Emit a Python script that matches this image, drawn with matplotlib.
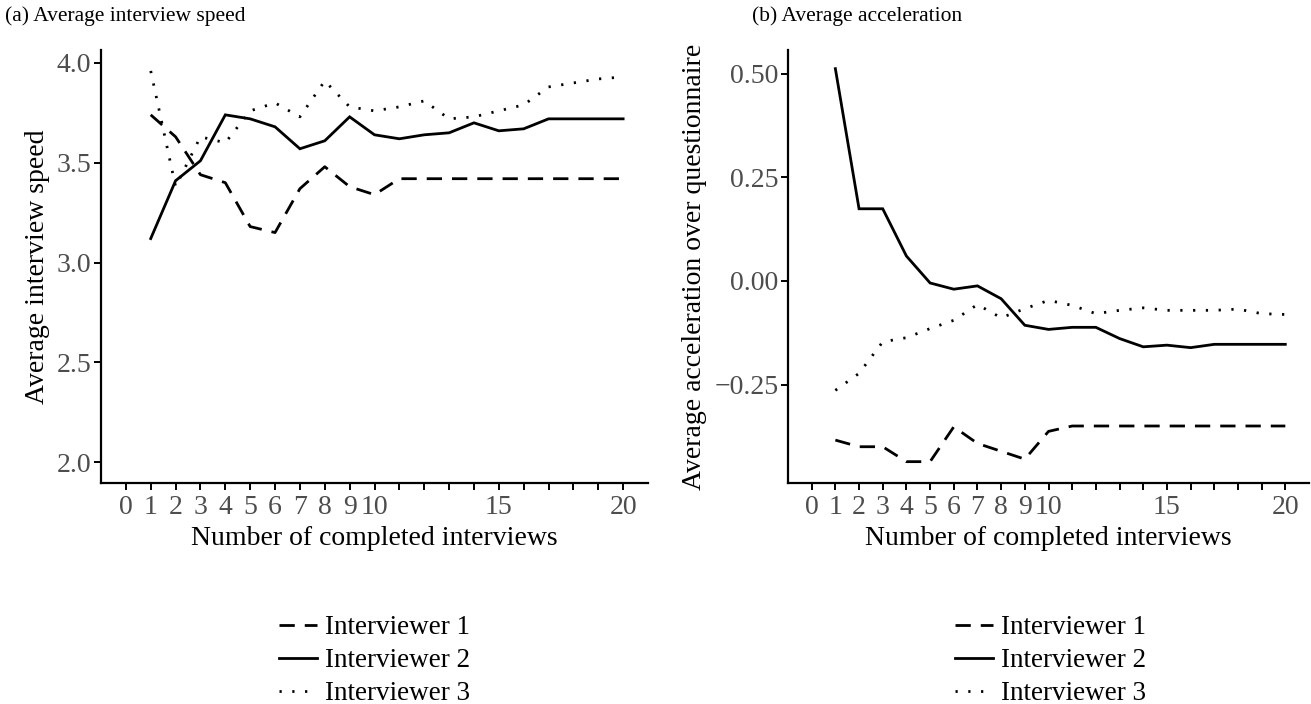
import numpy as np
import matplotlib
matplotlib.use("Agg")
import matplotlib.pyplot as plt

# interviews completed (x) for every series
n_interviews = list(range(1, 21))

# (a) average interview speed
speed_int1 = [3.74, 3.63, 3.44, 3.40, 3.18, 3.15, 3.37, 3.48, 3.38, 3.34,
              3.42, 3.42, 3.42, 3.42, 3.42, 3.42, 3.42, 3.42, 3.42, 3.42]
speed_int2 = [3.12, 3.41, 3.51, 3.74, 3.72, 3.68, 3.57, 3.61, 3.73, 3.64,
              3.62, 3.64, 3.65, 3.70, 3.66, 3.67, 3.72, 3.72, 3.72, 3.72]
speed_int3 = [3.96, 3.38, 3.63, 3.60, 3.76, 3.80, 3.73, 3.91, 3.78, 3.76,
              3.78, 3.81, 3.72, 3.73, 3.76, 3.79, 3.88, 3.90, 3.92, 3.93]

# (b) average acceleration
acc_int1 = [-0.384, -0.400, -0.400, -0.436, -0.436, -0.352, -0.392, -0.411, -0.430, -0.363,
            -0.350, -0.350, -0.350, -0.350, -0.350, -0.350, -0.350, -0.350, -0.350, -0.350]
acc_int2 = [0.512, 0.174, 0.174, 0.060, -0.005, -0.020, -0.012, -0.043, -0.107, -0.117,
            -0.112, -0.112, -0.139, -0.159, -0.155, -0.161, -0.153, -0.153, -0.153, -0.153]
acc_int3 = [-0.264, -0.223, -0.147, -0.137, -0.115, -0.095, -0.057, -0.089, -0.067, -0.047,
            -0.059, -0.079, -0.071, -0.065, -0.071, -0.071, -0.071, -0.068, -0.079, -0.081]

labels = ["Interviewer 1", "Interviewer 2", "Interviewer 3"]
x_ticks = [0, 1, 2, 3, 4, 5, 6, 7, 8, 9, 10, 11, 12, 13, 14, 15, 16, 17, 18, 19, 20]
x_ticklabels = ["0", "1", "2", "3", "4", "5", "6", "7", "8", "9", "10",
                "", "", "", "", "15", "", "", "", "", "20"]

plt.rcParams['font.family'] = ['Liberation Serif', 'DejaVu Serif']

styles = [(0, (5.5, 3.6)), '-', (0, (0.8, 3.8))]
LW = 2.0
GREY = '#4D4D4D'
FS = 20

fig = plt.figure(figsize=(13.11, 7.04), dpi=100)
W, H = 1311, 704


def px_axes(x0, x1, y0, y1):
    return fig.add_axes([x0 / W, 1 - y1 / H, (x1 - x0) / W, (y1 - y0) / H])


def style_axes(ax, ylabel):
    for s in ['top', 'right']:
        ax.spines[s].set_visible(False)
    for s in ['left', 'bottom']:
        ax.spines[s].set_linewidth(1.6)
    ax.tick_params(axis='both', length=5, width=1.4, colors='black',
                   labelcolor=GREY, labelsize=FS, pad=2)
    ax.tick_params(axis='x', pad=4)
    ax.set_xticks(x_ticks)
    ax.set_xticklabels(x_ticklabels)
    ax.set_xlim(-1, 21)
    ax.set_xlabel("Number of completed interviews", fontsize=FS, labelpad=4)
    ax.set_ylabel(ylabel, fontsize=FS, labelpad=5)


ax1 = px_axes(101, 648, 50, 483)
for ys, ls, lab in zip([speed_int1, speed_int2, speed_int3], styles, labels):
    ax1.plot(n_interviews, ys, color='black', lw=LW, linestyle=ls, label=lab,
             dash_capstyle='butt', solid_joinstyle='miter')
ax1.set_ylim(1.895, 4.065)
ax1.set_yticks([2.0, 2.5, 3.0, 3.5, 4.0])
ax1.set_yticklabels(["2.0", "2.5", "3.0", "3.5", "4.0"])
style_axes(ax1, "Average interview speed")

ax2 = px_axes(788, 1309, 50, 483)
for ys, ls, lab in zip([acc_int1, acc_int2, acc_int3], styles, labels):
    ax2.plot(n_interviews, ys, color='black', lw=LW, linestyle=ls, label=lab,
             dash_capstyle='butt', solid_joinstyle='miter')
ax2.set_ylim(-0.4875, 0.557)
ax2.set_yticks([-0.25, 0.0, 0.25, 0.50])
ax2.set_yticklabels(["\u22120.25", "0.00", "0.25", "0.50"])
style_axes(ax2, "Average acceleration over questionnaire")

fig.text(5 / W, 1 - 16 / H, "(a) Average interview speed", fontsize=15.5,
         va='center', ha='left')
fig.text(752 / W, 1 - 16 / H, "(b) Average acceleration", fontsize=15.5,
         va='center', ha='left')

for ax, cx in [(ax1, 279), (ax2, 955)]:
    leg = ax.legend(loc='upper left', bbox_to_anchor=(cx / W, 1 - 615 / H),
                    bbox_transform=fig.transFigure, frameon=False,
                    fontsize=19.5, handlelength=1.4, handletextpad=0.3,
                    labelspacing=0.3, borderpad=0, borderaxespad=0)

fig.savefig("out.png", dpi=100)
